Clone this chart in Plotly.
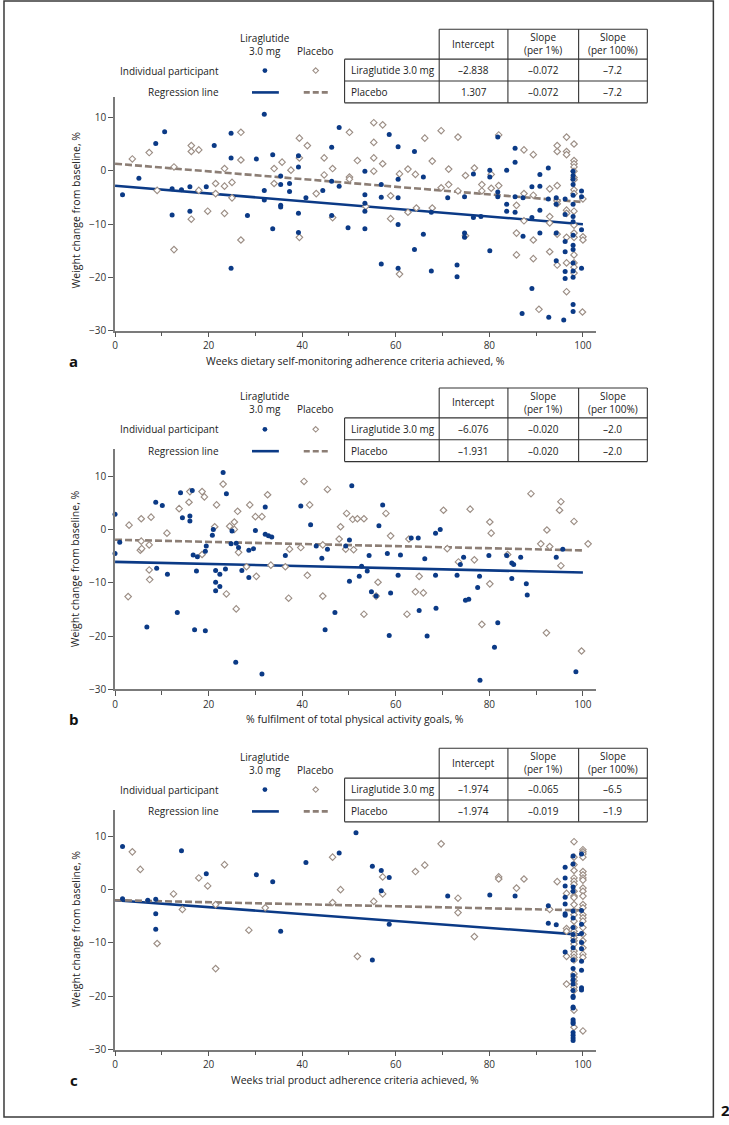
import plotly.graph_objects as go

W, H = 729, 1125
FONT = "Open Sans"
NAVY = "#0b3a86"
PLA = "#9c8e85"
PLA_LINE = "#8c7e75"
INK = "#222222"
AXIS = "#7b7b7b"

# ---------------- data ----------------
row_labels = ["Liraglutide 3.0 mg", "Placebo"]
col_headers = ["Intercept", "Slope<br>(per 1%)", "Slope<br>(per 100%)"]

a_intercept = [-2.838, 1.307]
a_slope1 = [-0.072, -0.072]
a_slope100 = [-7.2, -7.2]
b_intercept = [-6.076, -1.931]
b_slope1 = [-0.020, -0.020]
b_slope100 = [-2.0, -2.0]
c_intercept = [-1.974, -1.974]
c_slope1 = [-0.065, -0.019]
c_slope100 = [-6.5, -1.9]

x_titles = ["Weeks dietary self-monitoring adherence criteria achieved, %",
            "% fulfilment of total physical activity goals, %",
            "Weeks trial product adherence criteria achieved, %"]
panel_letters = ["a", "b", "c"]
x_ticks = [0, 20, 40, 60, 80, 100]
y_ticks = [-30, -20, -10, 0, 10]

a_lir = [(1.6,-4.5),(5.1,-1.4),(8.7,5.1),(10.6,7.3),(12.2,-3.4),(12.2,-8.3),(14.2,-3.6),(16.0,-3.0),
         (16.0,-7.6),(19.5,-3.0),(21.2,4.7),(24.8,7.0),(24.8,2.4),(24.8,-18.3),(28.3,-8.4),(30.2,2.2),
         (31.9,10.6),(31.9,-3.7),(31.9,-5.5),(33.7,3.0),(33.7,-10.9),(35.4,-1.0),(35.4,-2.6),(35.4,-6.5),
         (35.4,-6.8),(37.3,-2.4),(37.3,-3.9),(39.2,2.8),(39.2,0.7),(39.2,-8.0),(39.2,-11.6),(40.8,-5.1),
         (44.4,-3.7),(46.3,4.4),(46.3,-2.0),(46.3,-8.4),(47.9,8.1),(47.9,-2.9),(49.8,-10.7),(53.4,-0.1),
         (53.4,-4.5),(53.4,-6.1),(53.4,-7.6),(53.4,-10.9),(56.9,-2.6),(56.9,-5.0),(56.9,-17.5),(58.6,6.8),
         (60.5,4.5),(60.5,-1.6),(60.5,-5.1),(60.5,-10.1),(60.5,-18.3),(64.0,3.6),(64.0,-14.8),(65.9,-1.2),
         (65.9,-11.9),(67.6,-7.8),(67.6,-18.8),(71.1,-5.1),(73.1,-17.7),(73.1,-19.9),(74.7,-11.7),
         (74.7,-12.5),(74.7,-4.9),(76.6,-0.6),(76.6,-8.8),(78.2,-8.6),(80.1,0.1),(80.1,-1.2),(80.1,-15.0),
         (81.8,6.3),(81.8,-4.0),(81.8,-4.9),(83.7,0.1),(83.7,-6.3),(83.7,-7.6),(85.5,4.2),(85.5,1.6),
         (85.5,-4.9),(85.5,-7.8),(87.2,-5.1),(87.2,-12.3),(87.0,-26.8),(89.1,-3.0),(89.1,-8.8),(89.1,-22.1),
         (90.8,-0.7),(90.8,-2.9),(90.8,-7.4),(90.8,-11.7),(92.6,0.5),(92.6,-5.3),(92.7,-27.5),(94.3,-5.1),
         (94.3,-6.3),(94.3,-11.7),(94.3,-16.9),(95.9,-28.0),(96.2,-5.3),(96.2,-8.2),(96.2,-13.3),
         (96.2,-15.2),(96.2,-18.9),(96.2,-20.2),(97.9,-0.1),(97.9,-0.9),(97.9,-1.6),(97.9,-2.6),(97.9,-4.6),
         (97.9,-6.3),(97.9,-8.6),(97.9,-9.6),(97.9,-12.1),(97.9,-14.0),(97.9,-14.8),(97.9,-17.3),
         (97.9,-18.8),(97.9,-20.0),(97.9,-25.1),(97.9,-26.4),(99.7,-3.8),(99.7,-4.9),(99.7,-11.1),(99.7,-18.3)]

a_pla = [(3.7,2.2),(7.3,3.4),(9.0,-3.7),(12.6,0.7),(12.6,-14.8),(16.3,4.7),(16.3,3.6),(16.3,-9.1),
         (17.9,3.9),(17.9,-3.7),(19.8,-7.6),(21.5,-2.4),(21.5,-4.3),(23.4,0.4),(23.4,-2.9),(23.4,-8.0),
         (25.0,-2.2),(25.0,-5.1),(26.9,7.2),(26.9,2.0),(26.9,-13.0),(34.0,0.4),(34.0,-2.4),(35.7,1.6),
         (37.6,0.1),(39.4,6.1),(39.4,2.4),(39.4,-12.5),(41.1,4.7),(43.0,-4.3),(44.7,2.4),(44.7,-0.8),
         (46.5,0.4),(46.5,-8.8),(50.1,7.2),(50.1,-1.2),(50.1,-1.6),(51.8,1.9),(53.6,-6.7),(55.3,9.0),
         (55.3,5.3),(55.3,2.4),(55.3,-0.1),(57.2,8.6),(57.2,1.3),(58.9,-4.7),(58.9,-9.0),(60.8,-0.6),
         (60.8,-19.4),(62.6,0.3),(62.6,-7.8),(64.2,-0.7),(64.4,-7.0),(66.2,6.1),(67.8,1.8),(67.8,-7.0),
         (69.7,7.5),(69.7,-3.2),(71.3,0.3),(71.3,-2.6),(73.3,6.3),(73.3,-3.8),(74.9,-0.9),(74.9,-12.2),
         (76.8,0.5),(78.4,-2.6),(78.4,-3.8),(80.4,-0.7),(80.4,-3.3),(82.0,6.7),(82.0,-2.8),(85.8,-6.5),
         (85.8,-11.7),(85.8,-15.8),(87.4,3.9),(87.4,-4.3),(87.4,-9.4),(89.4,3.0),(89.4,-4.6),(89.4,-13.0),
         (89.4,-16.5),(90.6,-26.0),(92.9,-3.4),(92.9,-8.6),(92.9,-9.8),(92.9,-15.2),(94.5,4.7),(94.5,3.6),
         (94.5,-2.8),(94.5,-5.7),(94.5,-6.2),(94.5,-11.9),(94.5,-17.7),(96.5,6.3),(96.5,3.6),(96.5,3.0),
         (96.5,-7.4),(96.5,-8.0),(96.5,-12.5),(96.5,-17.3),(96.5,-22.7),(98.1,5.0),(98.1,1.9),(98.1,1.3),
         (98.1,0.7),(98.1,-0.1),(98.1,-1.3),(98.1,-1.7),(98.1,-3.6),(98.1,-4.3),(98.1,-7.6),(98.1,-10.2),
         (98.1,-11.7),(98.1,-12.5),(98.1,-15.8),(98.1,-17.3),(98.1,-18.1),(98.1,-19.2),(100.0,-5.3),
         (100.0,-12.4),(100.0,-13.0),(99.9,-26.5)]

b_lir = [(0.0,2.85),(0.0,-4.5),(1.0,-2.4),(6.8,-18.3),(8.7,5.1),(8.9,-7.3),(10.1,4.5),(11.2,-8.4),
         (13.3,-15.6),(14.0,6.9),(14.4,2.2),(16.0,2.5),(16.0,1.6),(16.5,7.3),(16.7,-4.8),(17.0,-18.8),
         (17.6,-5.1),(17.4,-7.8),(19.3,-4.1),(19.5,-3.1),(19.3,-19.0),(20.8,-1.1),(21.0,0.0),(21.5,-7.7),
         (21.5,-9.9),(21.5,-11.5),(22.4,-8.4),(22.4,-10.7),(23.1,10.7),(23.8,6.7),(23.6,-7.4),(24.8,-2.7),
         (25.0,-0.3),(25.9,-2.6),(26.4,-3.4),(27.1,-7.7),(28.6,-9.0),(28.6,-3.9),(29.6,-3.6),(30.0,-0.2),
         (32.1,4.2),(32.1,-0.9),(32.8,-1.2),(33.5,-1.4),(36.4,-4.9),(39.7,4.4),(41.8,0.9),(43.0,-3.1),
         (44.2,-5.4),(44.9,-18.8),(45.4,-3.7),(47.0,-15.6),(50.1,-2.0),(50.1,-9.7),(50.6,8.2),(49.3,-3.1),
         (52.2,-8.8),(52.7,-6.9),(53.9,-7.8),(54.3,-4.9),(54.8,-11.7),(55.8,-12.5),(56.4,0.7),(57.2,4.6),
         (58.2,-4.5),(58.6,-19.9),(58.9,-11.9),(60.5,-8.6),(61.0,-4.8),(63.3,-1.6),(64.8,-1.6),(65.0,-15.2),
         (66.2,-5.5),(66.7,-20.0),(68.5,-0.7),(69.5,0.0),(68.5,-8.6),(68.6,-14.8),(73.1,-8.6),(73.8,-6.6),
         (74.5,-5.2),(74.9,-13.3),(75.6,-13.1),(77.5,-10.9),(77.9,-8.8),(79.9,-4.9),(81.1,-22.1),
         (81.8,-17.5),(83.7,-4.9),(84.8,-6.3),(85.2,-6.6),(84.8,-9.2),(86.7,-5.2),(87.9,-10.2),(88.1,-12.3),
         (94.3,-5.2),(95.7,-3.7),(25.8,-24.9),(31.4,-27.1),(78.0,-28.3),(98.5,-26.7)]

b_pla = [(2.8,-12.6),(3.0,0.8),(5.6,2.0),(5.6,-2.2),(5.4,-3.9),(5.7,-3.6),(7.3,-2.9),(7.3,-7.6),
         (7.4,-9.4),(7.7,2.3),(11.1,-0.7),(13.7,3.9),(15.8,5.1),(16.0,7.1),(18.6,7.1),(19.1,6.1),
         (18.6,-4.7),(21.7,4.6),(21.3,0.5),(23.1,8.5),(23.8,-12.1),(24.5,0.6),(25.5,1.4),(25.5,0.0),
         (25.9,-14.9),(26.2,3.4),(26.4,-4.3),(28.1,-7.0),(28.8,4.6),(30.0,2.4),(30.2,-8.8),(31.4,2.4),
         (32.6,6.5),(33.3,-6.7),(36.4,-7.0),(37.1,-12.9),(37.3,-3.7),(39.7,-3.4),(40.4,9.0),(41.1,-8.6),
         (41.6,4.6),(44.4,-2.9),(44.4,-12.5),(45.4,7.5),(47.9,-1.8),(48.2,0.5),(49.5,3.0),(49.3,-3.7),
         (50.8,1.9),(51.8,2.0),(51.0,-3.8),(53.2,2.0),(53.2,-15.9),(56.2,-9.9),(55.8,-12.5),(57.9,3.0),
         (58.9,-1.2),(62.4,-15.9),(62.8,-1.8),(64.2,-11.7),(65.9,-11.9),(65.0,-8.8),(70.2,3.6),(71.0,-3.6),
         (73.4,-6.1),(75.9,3.8),(76.8,-5.7),(78.4,-17.8),(80.1,1.4),(80.4,-0.7),(80.1,-10.2),(83.9,-4.7),
         (88.9,6.7),(91.0,-2.7),(92.3,-0.1),(92.9,-3.2),(92.2,-19.4),(95.0,3.6),(95.3,5.2),(95.3,-6.8),
         (98.1,1.5),(99.7,-22.8),(101.1,-2.7)]

c_lir = [(1.6,8.1),(1.6,-1.7),(7.0,-2.0),(8.7,-1.8),(8.7,-4.5),(8.7,-7.4),(14.2,7.3),(19.5,3.0),
         (30.2,2.8),(33.7,1.5),(35.4,-7.8),(40.8,5.1),(47.9,6.9),(51.5,10.7),(55.0,4.4),(55.0,-13.2),
         (56.9,3.6),(56.9,-0.2),(58.6,2.3),(58.6,-6.5),(71.1,-1.2),(80.1,-1.0),(85.5,-1.2),(92.6,-3.0),
         (92.6,-6.3),(94.3,-6.6),(96.2,4.2),(96.2,2.2),(96.2,0.7),(96.2,-1.4),(96.2,-2.7),(96.2,-4.5),
         (96.2,-4.8),(96.2,-11.7),(97.9,6.3),(97.9,4.8),(97.9,0.5),(97.9,-0.3),(97.9,-4.0),(97.9,-5.3),
         (97.9,-7.1),(97.9,-8.4),(97.9,-9.6),(97.9,-10.9),(97.9,-13.2),(97.9,-14.8),(97.9,-16.1),
         (97.9,-16.9),(97.9,-17.7),(97.9,-18.9),(97.9,-20.0),(97.9,-20.2),(97.9,-22.0),(97.9,-22.2),
         (97.9,-24.4),(97.9,-24.8),(97.9,-25.1),(97.9,-26.8),(97.9,-27.3),(97.9,-27.8),(97.9,-28.3),
         (99.7,6.7),(99.7,-3.9),(99.7,-6.5),(99.7,-8.2),(99.7,-9.9),(99.7,-11.1),(99.7,-13.4),(99.7,-15.1),
         (99.7,-18.4),(99.7,-18.8)]

c_pla = [(3.7,7.1),(5.4,3.8),(9.0,-10.1),(12.5,-0.8),(14.4,-3.7),(17.9,2.2),(19.8,0.7),(21.5,-2.8),
         (21.5,-14.8),(23.4,4.7),(28.6,-7.6),(32.1,-3.4),(46.5,6.1),(46.5,-2.4),(48.2,0.0),(51.8,-12.5),
         (55.3,-2.2),(57.2,2.4),(57.2,-0.8),(64.2,3.4),(66.2,4.6),(69.7,8.6),(73.3,-1.6),(73.3,-4.3),
         (76.8,-8.8),(82.0,2.4),(82.0,2.0),(85.8,0.3),(87.4,2.0),(92.9,-3.7),(94.5,1.5),(96.5,-0.7),
         (96.5,-7.3),(96.5,-7.8),(96.5,-12.5),(96.5,-17.7),(98.1,9.0),(98.1,6.1),(98.1,4.7),(98.1,3.6),
         (98.1,2.2),(98.1,1.6),(98.1,1.0),(98.1,-0.3),(98.1,-1.2),(98.1,-1.5),(98.1,-2.8),(98.1,-4.0),
         (98.1,-4.7),(98.1,-5.9),(98.1,-7.1),(98.1,-7.8),(98.1,-8.4),(98.1,-9.0),(98.1,-9.6),(98.1,-10.2),
         (98.1,-11.5),(98.1,-12.1),(98.1,-12.7),(98.1,-13.2),(98.1,-15.8),(98.1,-16.4),(98.1,-17.1),
         (98.1,-17.7),(98.1,-18.3),(98.1,-18.9),(98.1,-22.6),(98.1,-25.8),(100.0,7.5),(100.0,7.1),
         (100.0,6.7),(100.0,6.1),(100.0,3.4),(100.0,2.8),(100.0,2.2),(100.0,1.8),(100.0,0.3),(100.0,-0.3),
         (100.0,-1.2),(100.0,-2.8),(100.0,-3.4),(100.0,-4.7),(100.0,-5.3),(100.0,-5.9),(100.0,-7.1),
         (100.0,-8.4),(100.0,-9.6),(100.0,-10.9),(100.0,-12.1),(100.0,-12.7),(100.0,-26.5)]

line_x = [0, 100]

# ---------------- layout helpers ----------------
def PX(x):
    return x / W

def PY(y):
    return 1 - y / H

panels = [
    dict(lir=a_lir, pla=a_pla, icpt=a_intercept, s1=a_slope1, s100=a_slope100, dy=0.0, ytop=13.9),
    dict(lir=b_lir, pla=b_pla, icpt=b_intercept, s1=b_slope1, s100=b_slope100, dy=361.0, ytop=15.0),
    dict(lir=c_lir, pla=c_pla, icpt=c_intercept, s1=c_slope1, s100=c_slope100, dy=723.5, ytop=15.0),
]

PPU_Y = 5.365
X_LEFT, X_RIGHT = 112.5, 595.0
X_MAX = 102.7
AXIS_Y0 = 332.7

def fmt(v, nd):
    s = f"{v:.{nd}f}"
    return s.replace("-", "\u2013")

fig = go.Figure()
shapes = []
annotations = []
layout_axes = {}

tf = dict(family=FONT, size=10, color=INK)

def ann(x, y, text, xanchor="center", font=tf, **kw):
    d = dict(x=PX(x), y=PY(y), xref="paper", yref="paper", text=text, showarrow=False,
             xanchor=xanchor, yanchor="middle", font=font)
    d.update(kw)
    annotations.append(d)

def pline(x0, y0, x1, y1, line):
    shapes.append(dict(type="line", xref="paper", yref="paper", x0=PX(x0), x1=PX(x1),
                       y0=PY(y0), y1=PY(y1), line=line))

for i, p in enumerate(panels):
    n = "" if i == 0 else str(i + 1)
    xa, ya = "x" + n, "y" + n
    dy = p["dy"]

    # regression lines
    for k, (col, dash) in enumerate([(NAVY, "solid"), (PLA_LINE, "7px,3px")]):
        fig.add_trace(go.Scatter(
            x=line_x, y=[p["icpt"][k] + p["s1"][k] * xv for xv in line_x],
            mode="lines", line=dict(color=col, width=2.6, dash=dash),
            xaxis=xa, yaxis=ya, showlegend=False, hoverinfo="skip"))
    # placebo points
    px_, py_ = zip(*p["pla"])
    fig.add_trace(go.Scatter(x=px_, y=py_, mode="markers", cliponaxis=False,
                             marker=dict(symbol="diamond", size=5, color="white",
                                         line=dict(color=PLA, width=1.15)),
                             xaxis=xa, yaxis=ya, showlegend=False))
    # liraglutide points
    lx_, ly_ = zip(*p["lir"])
    fig.add_trace(go.Scatter(x=lx_, y=ly_, mode="markers", cliponaxis=False,
                             marker=dict(symbol="circle", size=5, color=NAVY, line=dict(width=0)),
                             xaxis=xa, yaxis=ya, showlegend=False))

    bottom = AXIS_Y0 + dy
    top = bottom - (p["ytop"] + 30) * PPU_Y
    layout_axes["xaxis" + n] = dict(
        domain=[PX(X_LEFT), PX(X_RIGHT)], range=[0, X_MAX], anchor=ya,
        showline=True, linecolor=AXIS, linewidth=1.6, showgrid=False, zeroline=False,
        ticks="outside", ticklen=5, tickwidth=1.2, tickcolor="#555",
        tickmode="array", tickvals=x_ticks, tickfont=dict(family=FONT, size=10, color="#333"),
        minor=dict(tickmode="array", tickvals=[10, 30, 50, 70, 90], ticks="outside", ticklen=4,
                   tickwidth=1.2, tickcolor="#555", showgrid=False),
        fixedrange=True)
    layout_axes["yaxis" + n] = dict(
        domain=[PY(bottom), PY(top)], range=[-30, p["ytop"]], anchor=xa,
        showline=True, linecolor=AXIS, linewidth=1.6, showgrid=False, zeroline=False,
        ticks="outside", ticklen=5, tickwidth=1.2, tickcolor="#555",
        tickmode="array", tickvals=y_ticks, tickfont=dict(family=FONT, size=10, color="#333"),
        fixedrange=True)

    # ---- legend block ----
    ann(263, 44.5 + dy, "Liraglutide<br>3.0 mg")
    ann(314, 51 + dy, "Placebo")
    ann(219, 71 + dy, "Individual participant", xanchor="right")
    ann(219, 93 + dy, "Regression line", xanchor="right")
    r = 2.4
    shapes.append(dict(type="circle", xref="paper", yref="paper", x0=PX(263 - r), x1=PX(263 + r),
                       y0=PY(71 + dy + r), y1=PY(71 + dy - r), fillcolor=NAVY, line=dict(width=0)))
    d = 2.8
    cx, cy = 314, 71 + dy
    shapes.append(dict(type="path", xref="paper", yref="paper",
                       path=f"M {PX(cx)},{PY(cy - d)} L {PX(cx + d)},{PY(cy)} L {PX(cx)},{PY(cy + d)} L {PX(cx - d)},{PY(cy)} Z",
                       fillcolor="white", line=dict(color=PLA, width=1.1)))
    pline(250, 93 + dy, 277, 93 + dy, dict(color=NAVY, width=2.6))
    pline(302, 93 + dy, 327, 93 + dy, dict(color=PLA_LINE, width=2.6, dash="6px,3px"))

    # ---- table ----
    tl = dict(color="#333", width=1.1)
    cols = [343, 438, 507, 578, 647]
    y_head, y_r1, y_r2, y_bot = 29.5 + dy, 59.5 + dy, 81.5 + dy, 103.5 + dy
    pline(438, y_head, 647, y_head, tl)
    for yy in (y_r1, y_r2, y_bot):
        pline(343, yy, 647, yy, tl)
    pline(343, y_r1, 343, y_bot, tl)
    for cxx in cols[1:]:
        pline(cxx, y_head, cxx, y_bot, tl)
    centers = [(cols[j] + cols[j + 1]) / 2 for j in range(1, 4)]
    for j, h in enumerate(col_headers):
        ann(centers[j], 44 + dy, h)
    for k, lab in enumerate(row_labels):
        yy = (70.7 if k == 0 else 92.7) + dy
        ann(347, yy, lab, xanchor="left")
        vals = [fmt(p["icpt"][k], 3), fmt(p["s1"][k], 3), fmt(p["s100"][k], 1)]
        for j, v in enumerate(vals):
            ann(centers[j], yy, v)

    # ---- axis titles and panel letters ----
    ann(73, 211 + dy, "Weight change from baseline, %", textangle=-90,
        font=dict(family=FONT, size=10.5, color=INK))
    ann((X_LEFT + X_RIGHT) / 2, 363 + dy, x_titles[i], font=dict(family=FONT, size=10.5, color=INK))
    ann(71, 363 + dy, "<b>" + panel_letters[i] + "</b>", font=dict(family=FONT, size=15, color="#111"))

# outer frame and figure number
shapes.append(dict(type="rect", xref="paper", yref="paper", x0=PX(1), x1=PX(713.3), y0=PY(1124), y1=PY(1),
                   line=dict(color="#3a3a3a", width=1.5), fillcolor="rgba(0,0,0,0)"))
ann(719, 1117, "<b>2</b>", xanchor="left", font=dict(family=FONT, size=15, color="#111"))

fig.update_layout(width=W, height=H, margin=dict(l=0, r=0, t=0, b=0),
                  paper_bgcolor="white", plot_bgcolor="white",
                  shapes=shapes, annotations=annotations, showlegend=False,
                  font=dict(family=FONT, size=10, color=INK), **layout_axes)

fig.write_html("out.html", config={"displayModeBar": False},
               post_script="document.body.style.margin='0';document.body.style.overflow='hidden';")
